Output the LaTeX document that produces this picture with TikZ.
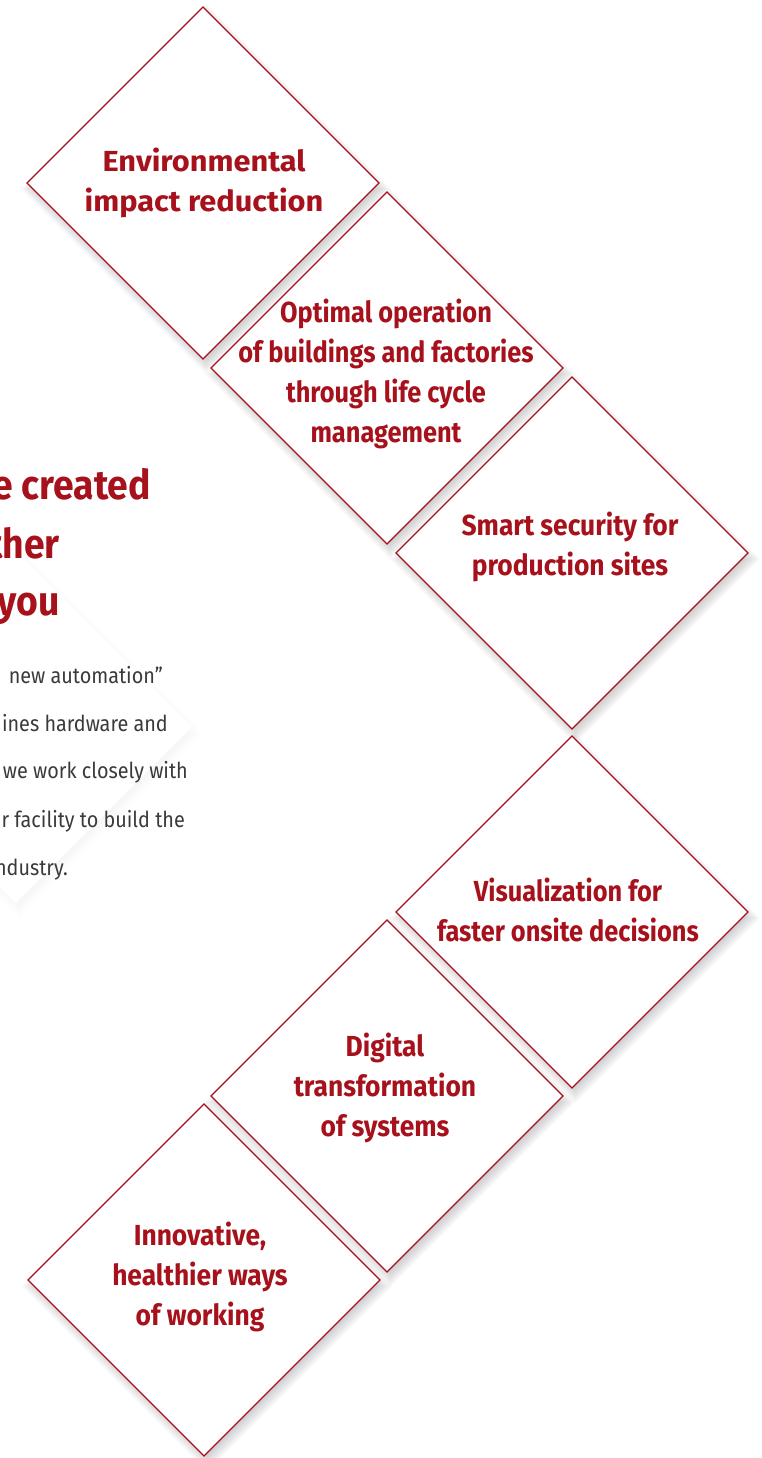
\documentclass[tikz,border=0pt]{standalone}
\usepackage{fontspec}
\setmainfont{Fira Sans}
\newfontfamily\labfont[FakeStretch=0.91]{Fira Sans}
\newfontfamily\narrowfont[FakeStretch=0.875]{Fira Sans}
\newfontfamily\widefont[FakeStretch=1.06]{Fira Sans}
\newfontfamily\bodyfont[FakeStretch=0.90]{Fira Sans}
\definecolor{hred}{HTML}{A50F1E}
\definecolor{tred}{HTML}{A6111C}
\definecolor{btext}{HTML}{3A3A3A}
\tikzset{
  dia/.style={draw=hred, line width=1.1pt, fill=white, line join=miter},
  lab/.style={text=tred, font=\labfont\bfseries\fontsize{29}{40}\selectfont, align=center, inner sep=0pt},
  widelab/.style={lab, font=\widefont\bfseries\fontsize{29}{40}\selectfont},
  narrowlab/.style={lab, font=\narrowfont\bfseries\fontsize{29}{40}\selectfont},
  head/.style={text=tred, font=\labfont\bfseries\fontsize{41}{58}\selectfont, inner sep=0pt},
  body/.style={text=btext, font=\bodyfont\fontsize{22}{48}\selectfont, inner sep=0pt},
  pics/diam/.style={code={\path[dia] (0,-176) -- (176,0) -- (0,176) -- (-176,0) -- cycle;}},
  pics/dshadow/.style={code={
    \foreach \k in {0,...,9}{
      \pgfmathsetmacro{\s}{167+2*\k}
      \fill[black, opacity=#1] (3,{6-\s}) -- ({3+\s},6) -- (3,{6+\s}) -- ({3-\s},6) -- cycle;
    }}},
}
\begin{document}
\begin{tikzpicture}[x=1pt,y=-1pt]
\useasboundingbox (0,0) rectangle (762,1458);
\clip (0,0) rectangle (762,1458);
% faint background diamond behind the text
\pic at (16,727) {dshadow=0.0025};
\fill[white] (16,551) -- (192,727) -- (16,903) -- (-160,727) -- cycle;
% shadows
\foreach \p in {(203,183),(387,368),(572,553),(572,912),(387,1096),(204,1280)}
  \pic at \p {dshadow=0.022};
% diamonds
\pic (d1) at (203,183) {diam};
\pic (d2) at (387,368) {diam};
\pic (d3) at (572,553) {diam};
\pic (d4) at (572,912) {diam};
\pic (d5) at (387,1096) {diam};
\pic (d6) at (204,1280) {diam};
% labels
\node[widelab] (t1) at (204,183) {Environmental\\impact reduction};
\node[narrowlab] (t2) at (386,374) {Optimal operation\\of buildings and factories\\through life cycle\\management};
\node[lab] (t3) at (570,547) {Smart security for\\production sites};
\node[narrowlab] (t4) at (568,910) {Visualization for\\faster onsite decisions};
\node[lab] (t5) at (385,1088) {Digital\\transformation\\of systems};
\node[lab] (t6) at (200,1277) {Innovative,\\healthier ways\\of working};
% heading (cut at the left edge)
\node[head, anchor=base east] (h1) at (151,499) {e created};
\node[head, anchor=base east] (h2) at (60,558) {ther};
\node[head, anchor=base east] (h3) at (60,615) {you};
% body text (cut at the left edge)
\node[body, anchor=base east] (b1) at (163,683) {new automation”};
\node[body, anchor=base east] (b2) at (168,731) {ines hardware and};
\node[body, anchor=base east] (b3) at (188,778) {we work closely with};
\node[body, anchor=base east] (b4) at (185,827) {r facility to build the};
\node[body, anchor=base east] (b5) at (68,875) {ndustry.};
\end{tikzpicture}
\end{document}
